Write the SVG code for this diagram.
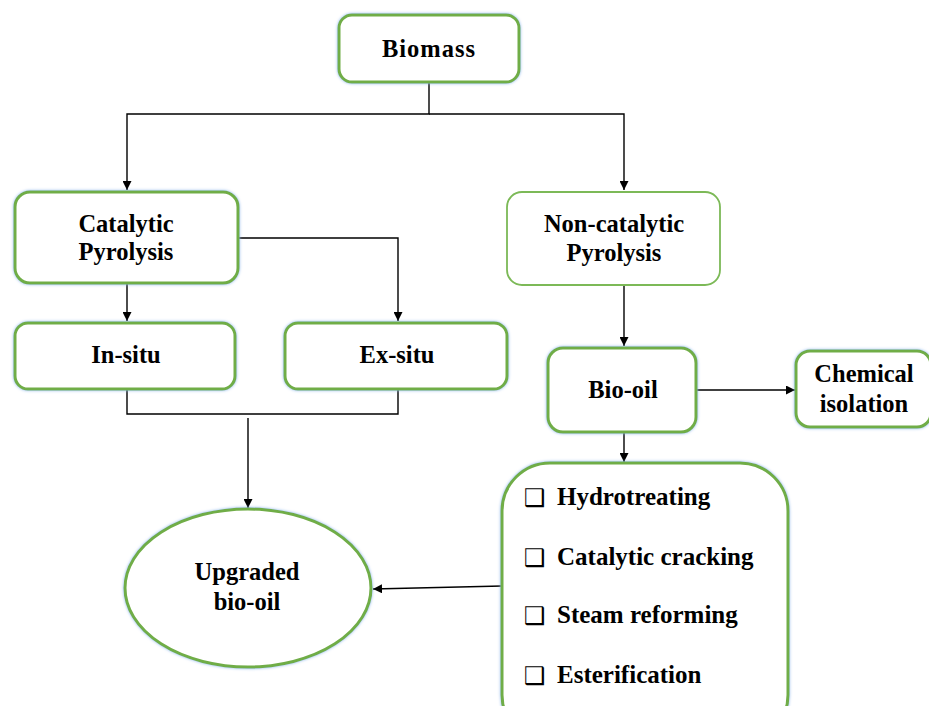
<svg xmlns="http://www.w3.org/2000/svg" width="929" height="706" viewBox="0 0 929 706">
<defs>
<filter id="glow" x="-10%" y="-10%" width="120%" height="120%">
<feGaussianBlur in="SourceAlpha" stdDeviation="1.8" result="b"/>
<feFlood flood-color="#8db6ec" result="c"/>
<feComposite in="c" in2="b" operator="in" result="g"/>
<feMerge><feMergeNode in="g"/><feMergeNode in="SourceGraphic"/></feMerge>
</filter>
<marker id="arr" viewBox="0 0 10 10" refX="10" refY="5" markerWidth="9" markerHeight="9" markerUnits="userSpaceOnUse" orient="auto">
<path d="M0,0 L10,5 L0,10 z" fill="#000"/>
</marker>
</defs>
<style>
.box{fill:#fff;stroke:#70ad47;stroke-width:3;filter:url(#glow)}
.thin{fill:#fff;stroke:#7cb957;stroke-width:1.8}
.t{font-family:"Liberation Serif","Times New Roman",serif;font-weight:bold;font-size:24.5px;fill:#000;text-anchor:middle}
.l{font-family:"Liberation Serif","Times New Roman",serif;font-weight:bold;font-size:25px;fill:#000}
.cb{font-family:"DejaVu Sans",sans-serif;font-size:24px;font-weight:bold;fill:#000}
.c{fill:none;stroke:#000;stroke-width:1.4}
</style>
<rect width="929" height="706" fill="#fff"/>
<g id="connectors">
<path class="c" d="M429,82 V114 H127 V190" marker-end="url(#arr)"/>
<path class="c" d="M429,114 H624 V190" marker-end="url(#arr)"/>
<path class="c" d="M127,284 V321" marker-end="url(#arr)"/>
<path class="c" d="M238,238 H398 V321" marker-end="url(#arr)"/>
<path class="c" d="M127,390 V414 H398 V390"/>
<path class="c" d="M248,418 V508" marker-end="url(#arr)"/>
<path class="c" d="M624,286 V346" marker-end="url(#arr)"/>
<path class="c" d="M697,390 H795" marker-end="url(#arr)"/>
<path class="c" d="M624,432 V462" marker-end="url(#arr)"/>
<path class="c" d="M502,586 L373,589" marker-end="url(#arr)"/>
</g>
<g id="biomass">
<rect class="box" x="339" y="15" width="180" height="67" rx="13"/>
<text class="t" x="429" y="57" letter-spacing="1">Biomass</text>
</g>
<g id="catalytic">
<rect class="box" x="15" y="192" width="223" height="91" rx="15"/>
<text class="t" x="126" y="232">Catalytic</text>
<text class="t" x="126" y="260">Pyrolysis</text>
</g>
<g id="noncatalytic">
<rect class="thin" x="507" y="192" width="213" height="93" rx="15"/>
<text class="t" x="614" y="232">Non-catalytic</text>
<text class="t" x="614" y="261">Pyrolysis</text>
</g>
<g id="insitu">
<rect class="box" x="15" y="323" width="220" height="66" rx="13"/>
<text class="t" x="126" y="363">In-situ</text>
</g>
<g id="exsitu">
<rect class="box" x="285" y="323" width="222" height="66" rx="13"/>
<text class="t" x="397" y="363">Ex-situ</text>
</g>
<g id="biooil">
<rect class="box" x="548" y="348" width="148" height="84" rx="15"/>
<text class="t" x="623" y="398">Bio-oil</text>
</g>
<g id="chemical">
<rect class="box" x="796" y="351" width="135" height="76" rx="14"/>
<text class="t" x="864" y="382">Chemical</text>
<text class="t" x="864" y="412">isolation</text>
</g>
<g id="upgraded">
<ellipse class="box" cx="248" cy="588" rx="123" ry="79"/>
<text class="t" x="247" y="580">Upgraded</text>
<text class="t" x="247" y="610">bio-oil</text>
</g>
<g id="methods">
<rect class="box" x="502" y="463" width="286" height="280" rx="48"/>
<text class="cb" x="524" y="506">❑</text>
<text class="l" x="557" y="505">Hydrotreating</text>
<text class="cb" x="524" y="566">❑</text>
<text class="l" x="557" y="565">Catalytic  cracking</text>
<text class="cb" x="524" y="624">❑</text>
<text class="l" x="557" y="623">Steam reforming</text>
<text class="cb" x="524" y="684">❑</text>
<text class="l" x="557" y="683">Esterification</text>
</g>
</svg>
